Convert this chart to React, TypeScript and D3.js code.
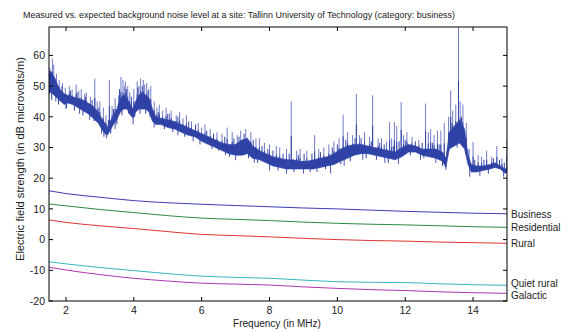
import React from "react";
import * as d3 from "d3";

const bandFreq = [1.5, 1.55, 1.65, 1.75, 1.85, 1.95, 2.05, 2.2, 2.35, 2.5, 2.65, 2.8, 2.95, 3.05, 3.15, 3.22, 3.3, 3.4, 3.5, 3.6, 3.7, 3.8, 3.9, 3.98, 4.05, 4.15, 4.25, 4.35, 4.45, 4.55, 4.65, 4.8, 5.0, 5.2, 5.4, 5.6, 5.8, 6.0, 6.2, 6.4, 6.6, 6.8, 7.0, 7.2, 7.35, 7.5, 7.7, 7.9, 8.1, 8.3, 8.5, 8.7, 8.9, 9.1, 9.3, 9.5, 9.7, 9.9, 10.1, 10.3, 10.5, 10.7, 10.9, 11.1, 11.3, 11.5, 11.7, 11.9, 12.1, 12.3, 12.5, 12.7, 12.9, 13.1, 13.2, 13.3, 13.45, 13.6, 13.75, 13.85, 13.95, 14.1, 14.3, 14.5, 14.65, 14.8, 14.95, 15.0];
const bandLow = [47.5, 48, 47, 46, 45, 44, 44.5, 44, 43, 42, 41, 39.5, 38, 36, 34.5, 34, 35.5, 37.5, 39, 41.5, 42.5, 42.5, 40.5, 39.5, 41.5, 42.5, 42.5, 42.5, 41.5, 38.5, 37.5, 37.5, 36.5, 36, 35, 34, 33.5, 32, 31, 30, 29, 28, 27.5, 27.5, 28, 26.5, 26, 25, 24, 23.5, 23, 23, 23, 23, 23, 23.5, 24, 24.5, 25.5, 26.5, 27.5, 28, 28, 27.5, 27, 26.5, 26, 27, 28.5, 28.5, 27.5, 27, 26.5, 25.5, 23.5, 29.5, 30.5, 31.5, 29.5, 24.5, 22, 22, 22.5, 23, 23.5, 23, 21.5, 22];
const bandHigh = [54, 55, 53, 50.5, 48.5, 47.5, 47, 46.5, 46, 45.5, 44.5, 43.5, 41.5, 39.5, 38, 36.5, 38.5, 40.5, 42.5, 46, 47, 46, 44, 42.5, 45, 47, 48, 47, 46, 42.5, 40, 39.5, 39, 38.5, 37.5, 36.5, 35.5, 34.5, 33.5, 32.5, 31.5, 31, 31, 32.5, 33, 30.5, 29, 28, 27, 26.5, 26, 26, 25.5, 25.5, 26, 26.5, 27, 28, 29.5, 30.5, 31, 31, 30.5, 30, 29.5, 29, 28.5, 30, 31, 30.5, 29.5, 29.5, 29.5, 28.5, 26.5, 35, 37, 39, 36, 27.5, 24.5, 24, 24, 24.5, 25, 24, 23, 23.5];

// spikes above the band: [freq, peak]
const spikes: [number, number][] = [
  [1.52, 56], [1.6, 59], [1.64, 57], [1.72, 54], [1.8, 52], [1.9, 51], [1.98, 49.5], [2.1, 50], [2.18, 49], [2.3, 50.5], [2.38, 48.5],
  [2.45, 49], [2.55, 47.5], [2.6, 48], [2.72, 46.5], [2.85, 52.5], [2.92, 45], [3.0, 45], [3.1, 43], [3.18, 40.5], [3.28, 52],
  [3.36, 43.5], [3.45, 46], [3.55, 47], [3.62, 53], [3.68, 52], [3.72, 50], [3.75, 51.5], [3.82, 50], [3.88, 48], [4.0, 49],
  [4.1, 51.5], [4.15, 50], [4.2, 52.5], [4.28, 52], [4.32, 50.5], [4.38, 51], [4.44, 49], [4.5, 50], [4.6, 45], [4.68, 43],
  [4.75, 44], [4.85, 42], [4.95, 43], [5.05, 41], [5.1, 42], [5.25, 40.5], [5.35, 41.5], [5.45, 39.5], [5.55, 40.5], [5.7, 38.5],
  [5.9, 38], [6.0, 36.5], [6.1, 37.5], [6.25, 36], [6.45, 35], [6.6, 34.5], [6.75, 36.5], [6.9, 35], [7.05, 34], [7.15, 35.5],
  [7.3, 36], [7.45, 35], [7.6, 33], [7.7, 33], [7.85, 31.5], [8.0, 31], [8.2, 30.5], [8.3, 30], [8.5, 29.5], [8.64, 45],
  [8.8, 29], [8.9, 29.5], [9.1, 29], [9.33, 34], [9.45, 29.5], [9.6, 30], [9.75, 31], [9.9, 32], [10.05, 33], [10.17, 40.7],
  [10.3, 35], [10.45, 34], [10.56, 47.5], [10.65, 34], [10.8, 35], [10.95, 33.5], [11.04, 47], [11.2, 33], [11.3, 33],
  [11.45, 32], [11.54, 38.3], [11.6, 33], [11.68, 38.3], [11.75, 37], [11.88, 44.8], [11.95, 34], [12.05, 35], [12.2, 33.5],
  [12.4, 32.5], [12.6, 44.3], [12.68, 35], [12.75, 36], [12.85, 34], [12.95, 35.5], [13.05, 35.5], [13.15, 38], [13.28, 40],
  [13.34, 48.6], [13.4, 42], [13.49, 44], [13.57, 72], [13.62, 45], [13.7, 44], [13.8, 38], [14.0, 31.8], [14.15, 27.5],
  [14.25, 27], [14.4, 29], [14.55, 27], [14.7, 30.5], [14.85, 26.5], [15.0, 33],
];

// small hairs on the band edges: [freq, tip]
const hairs: [number, number][] = [
  [1.58, 45.5], [1.68, 52.5], [1.78, 44], [1.88, 50], [2.02, 43], [2.13, 48.5], [2.25, 42], [2.33, 48], [2.5, 40.5], [2.58, 46.5],
  [2.77, 45.5], [2.83, 38.5], [2.97, 43], [3.12, 33.5], [3.25, 39], [3.32, 34.5], [3.4, 42.5], [3.5, 37.5], [3.58, 49], [3.65, 40.5],
  [3.78, 49], [3.85, 41], [3.93, 46.5], [4.03, 40], [4.12, 49.5], [4.18, 41], [4.25, 50], [4.35, 41], [4.42, 48.5], [4.48, 40],
  [4.72, 41.5], [4.9, 36], [5.0, 41], [5.15, 35], [5.3, 40], [5.5, 33.5], [5.62, 38.5], [5.82, 37.5], [5.95, 31], [6.15, 35.5],
  [6.35, 34.5], [6.5, 29], [6.68, 33.5], [6.82, 27], [6.95, 33], [7.1, 33.5], [7.25, 34.5], [7.38, 26.5], [7.52, 32.5], [7.65, 25],
  [7.78, 30.5], [7.95, 29.5], [8.1, 29], [8.25, 22.5], [8.4, 28], [8.58, 28], [8.72, 22], [8.85, 27.5], [9.02, 28], [9.2, 22],
  [9.25, 28], [9.5, 28.5], [9.65, 23], [9.85, 30], [10.0, 31], [10.1, 24.5], [10.25, 32.5], [10.38, 25.5], [10.52, 33], [10.7, 33],
  [10.85, 26.5], [11.0, 32], [11.15, 26], [11.25, 31.5], [11.38, 31], [11.5, 25], [11.65, 30.5], [11.82, 32], [12.0, 32.5], [12.15, 27.5],
  [12.3, 32], [12.5, 31.5], [12.55, 26.5], [12.8, 31.5], [13.0, 31], [13.1, 24], [13.38, 38], [13.53, 30], [13.66, 40], [13.78, 28],
  [13.88, 29.5], [14.05, 26], [14.32, 26], [14.45, 21.5], [14.6, 26.5], [14.78, 26], [14.92, 25],
];

// dips below the band: [freq, bottom]
const dips: [number, number][] = [
  [1.7, 45], [2.0, 42.5], [2.4, 41], [2.7, 39], [3.05, 34.5], [3.2, 33], [3.45, 36], [3.98, 37.5], [4.6, 36.5], [5.3, 34],
  [5.75, 32], [6.3, 29.5], [6.7, 27.5], [7.0, 25.9], [7.55, 25], [8.0, 22.5], [8.5, 21.5], [9.0, 21.5], [9.4, 22], [9.8, 21.5],
  [10.2, 24], [10.75, 26], [11.4, 25], [11.8, 24.6], [12.45, 26], [12.9, 25], [13.2, 22.7], [13.9, 20.5], [14.2, 20.8], [14.9, 20.5],
];

// expected noise levels
const curveFreq = [1.5, 2, 3, 4, 5, 6, 7, 8, 9, 10, 11, 12, 13, 14, 15];
const business = [15.9, 15.0, 13.8, 12.7, 12.0, 11.5, 11.1, 10.7, 10.3, 10.0, 9.6, 9.2, 8.9, 8.6, 8.4];
const residential = [11.6, 11.0, 9.8, 8.8, 7.8, 7.0, 6.6, 6.2, 5.7, 5.3, 5.0, 4.8, 4.5, 4.2, 4.0];
const rural = [6.4, 5.6, 4.5, 3.6, 2.6, 1.7, 1.3, 0.9, 0.4, 0.0, -0.3, -0.5, -0.8, -1.0, -1.2];
const quietRural = [-7.2, -7.9, -9.1, -10.1, -11.1, -11.9, -12.3, -12.6, -13.2, -13.7, -13.9, -14.0, -14.4, -14.7, -14.9];
const galactic = [-9.0, -9.9, -11.4, -12.6, -13.5, -14.2, -14.5, -14.8, -15.4, -15.9, -16.3, -16.6, -17.0, -17.3, -17.5];

const xTicks = [2, 4, 6, 8, 10, 12, 14];
const yTicks = [-20, -10, 0, 10, 20, 30, 40, 50, 60];

const series = [
  { name: "Business", values: business, color: "#3c3cb4", dy: 3.8 },
  { name: "Residential", values: residential, color: "#2e8a40", dy: 3.8 },
  { name: "Rural", values: rural, color: "#dc3434", dy: 3.8 },
  { name: "Quiet rural", values: quietRural, color: "#34b8bc", dy: 2.0 },
  { name: "Galactic", values: galactic, color: "#b034b0", dy: 5.2 },
];

const W = 569;
const H = 332;
const margin = { top: 27, right: 62, bottom: 31, left: 49 };
const font = "'Liberation Sans', Arial, Helvetica, sans-serif";

export default function App() {
  const x = d3.scaleLinear().domain([1.5, 15]).range([margin.left, W - margin.right]);
  const y = d3.scaleLinear().domain([-20, 69.25]).range([H - margin.bottom, margin.top]);

  const bandIdx = bandFreq.map((_, i) => i);
  const area = d3
    .area<number>()
    .x((i) => x(bandFreq[i]))
    .y0((i) => y(bandLow[i]))
    .y1((i) => y(bandHigh[i]));
  const mid = d3
    .scaleLinear()
    .domain(bandFreq)
    .range(bandFreq.map((_, i) => (bandLow[i] + bandHigh[i]) / 2));

  const x0 = margin.left;
  const x1 = W - margin.right;
  const y0 = H - margin.bottom;
  const y1 = margin.top;

  return (
    <svg width={W} height={H} style={{ position: "absolute", left: 0, top: 0, background: "#fff" }} fontFamily={font}>
      <defs>
        <clipPath id="plot">
          <rect x={x0} y={y1} width={x1 - x0} height={y0 - y1} />
        </clipPath>
      </defs>
      <rect width={W} height={H} fill="#fff" />

      <g clipPath="url(#plot)">
        {spikes.map(([f, v], i) => (
          <line key={"s" + i} x1={x(f)} x2={x(f)} y1={y(mid(f))} y2={y(v)} stroke="#7079c6" strokeWidth={1} />
        ))}
        {dips.map(([f, v], i) => (
          <line key={"d" + i} x1={x(f)} x2={x(f)} y1={y(mid(f))} y2={y(v)} stroke="#4a58b4" strokeWidth={1} />
        ))}
        <path d={area(bandIdx) || ""} fill="#2f42a6" stroke="#2f42a6" strokeWidth={0.6} />
        {hairs.map(([f, v], i) => (
          <line key={"h" + i} x1={x(f)} x2={x(f)} y1={y(mid(f))} y2={y(v)} stroke="#3344a8" strokeWidth={1} />
        ))}
        {spikes.map(([f, v], i) => (
          <line key={"b" + i} x1={x(f)} x2={x(f)} y1={y(mid(f))} y2={y(mid(f) + (v - mid(f)) * 0.45)} stroke="#2f42a6" strokeWidth={1} />
        ))}

        {series.map((s) => (
          <path
            key={s.name}
            d={
              d3
                .line<number>()
                .x((i) => x(curveFreq[i]))
                .y((i) => y(s.values[i]))
                .curve(d3.curveMonotoneX)(curveFreq.map((_, i) => i)) || ""
            }
            fill="none"
            stroke={s.color}
            strokeWidth={1}
          />
        ))}
      </g>

      {/* axes box */}
      <rect x={x0} y={y1} width={x1 - x0} height={y0 - y1} fill="none" stroke="#000" strokeWidth={1} />
      {xTicks.map((t) => (
        <g key={"xt" + t}>
          <line x1={x(t)} x2={x(t)} y1={y0} y2={y0 - 4} stroke="#000" />
          <line x1={x(t)} x2={x(t)} y1={y1} y2={y1 + 4} stroke="#000" />
          <text x={x(t)} y={314} fontSize={10.5} textAnchor="middle" fill="#222">
            {t}
          </text>
        </g>
      ))}
      {yTicks.map((t) => (
        <g key={"yt" + t}>
          <line x1={x0} x2={x0 + 4} y1={y(t)} y2={y(t)} stroke="#000" />
          <line x1={x1} x2={x1 - 4} y1={y(t)} y2={y(t)} stroke="#000" />
          <text x={45} y={y(t) + 3.8} fontSize={10.5} textAnchor="end" fill="#222">
            {t}
          </text>
        </g>
      ))}

      {series.map((s) => (
        <text key={"l" + s.name} x={511} y={y(s.values[s.values.length - 1]) + s.dy} fontSize={10} fill="#222">
          {s.name}
        </text>
      ))}

      <text x={23} y={18} fontSize={9} fill="#222" textLength={432} lengthAdjust="spacingAndGlyphs">
        Measured vs. expected background noise level at a site: Tallinn University of Technology (category: business)
      </text>
      <text x={277} y={327} fontSize={10} textAnchor="middle" fill="#222">
        Frequency (in MHz)
      </text>
      <text
        transform="translate(24,159) rotate(-90)"
        x={0}
        y={0}
        fontSize={10}
        textAnchor="middle"
        fill="#222"
        textLength={204}
        lengthAdjust="spacingAndGlyphs"
      >
        Electric field strength (in dB microvolts/m)
      </text>
    </svg>
  );
}
